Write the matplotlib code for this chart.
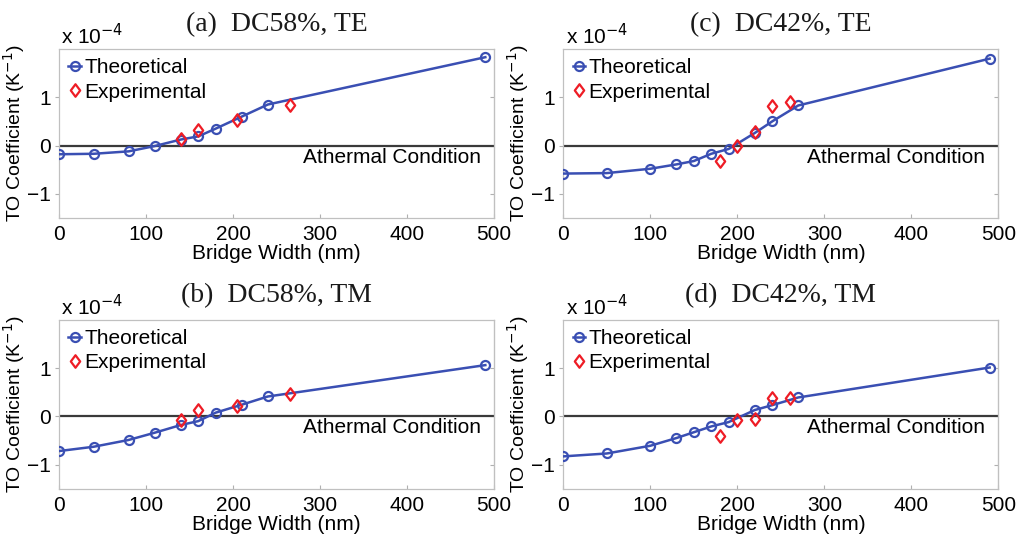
import matplotlib.pyplot as plt
from matplotlib.path import Path

# values in units of 1e-4 K^-1
a_th_x = [0, 40, 80, 110, 140, 160, 180, 210, 240, 490]
a_th_y = [-0.18, -0.17, -0.12, -0.01, 0.125, 0.19, 0.35, 0.60, 0.85, 1.83]
a_ex_x = [140, 160, 205, 265]
a_ex_y = [0.14, 0.32, 0.53, 0.84]

b_th_x = [0, 40, 80, 110, 140, 160, 180, 210, 240, 490]
b_th_y = [-0.72, -0.63, -0.49, -0.34, -0.18, -0.10, 0.075, 0.24, 0.41, 1.06]
b_ex_x = [140, 160, 205, 265]
b_ex_y = [-0.07, 0.13, 0.22, 0.46]

c_th_x = [0, 50, 100, 130, 150, 170, 190, 220, 240, 270, 490]
c_th_y = [-0.58, -0.57, -0.48, -0.39, -0.32, -0.17, -0.07, 0.26, 0.50, 0.83, 1.80]
c_ex_x = [180, 200, 220, 240, 260]
c_ex_y = [-0.33, -0.01, 0.28, 0.82, 0.90]

d_th_x = [0, 50, 100, 130, 150, 170, 190, 220, 240, 270, 490]
d_th_y = [-0.83, -0.77, -0.61, -0.45, -0.33, -0.21, -0.12, 0.13, 0.23, 0.39, 1.01]
d_ex_x = [180, 200, 220, 240, 260]
d_ex_y = [-0.41, -0.08, -0.05, 0.38, 0.37]

titles = ["(a)  DC58%, TE", "(b)  DC58%, TM", "(c)  DC42%, TE", "(d)  DC42%, TM"]

BLUE = '#3a4fb3'
RED = '#ee1c25'
FS = 15

plt.rcParams['font.family'] = 'Liberation Sans'

# MATLAB-like diamond, a bit wider than matplotlib's thin 'd'
DIAMOND = Path([(0, 1), (0.75, 0), (0, -1), (-0.75, 0), (0, 1)],
               [Path.MOVETO, Path.LINETO, Path.LINETO, Path.LINETO, Path.CLOSEPOLY])


def panel(fig, rect, title, tx, ty, ex, ey):
    ax = fig.add_axes(rect)
    ax.axhline(0, color='#3a3a3a', lw=1.6, zorder=1)
    ax.plot(tx, ty, '-o', color=BLUE, lw=1.8, ms=6.5, mew=1.6,
            mfc='none', label='Theoretical', zorder=3)
    ax.plot(ex, ey, ls='none', marker=DIAMOND, color=RED, ms=9, mew=1.6,
            mfc='none', label='Experimental', zorder=4)
    ax.set_xlim(0, 500)
    ax.set_ylim(-1.5, 2)
    ax.set_xticks([0, 100, 200, 300, 400, 500])
    ax.set_yticks([-1, 0, 1])
    ax.tick_params(axis='x', direction='in', length=3, width=0.8,
                   color='#b0b0b0', labelsize=FS, pad=5)
    ax.tick_params(axis='y', direction='out', length=3, width=0.8,
                   color='#b0b0b0', labelsize=FS, pad=3)
    sec = ax.secondary_yaxis('right')
    sec.set_yticks([-1, 0, 1])
    sec.tick_params(direction='in', length=3, width=0.8, color='#b0b0b0',
                    labelright=False)
    sec.spines['right'].set_color('#c0c0c0')
    for s in ax.spines.values():
        s.set_color('#c0c0c0')
        s.set_linewidth(0.9)
    ax.set_xlabel('Bridge Width (nm)', fontsize=FS, labelpad=0)
    ax.set_ylabel('TO Coefficient (K$^{-1}$)', fontsize=14, labelpad=0)
    ax.set_title(title, family='Liberation Serif', fontsize=20, pad=13,
                 color='#1a1a1a')
    ax.text(0.005, 1.005, r'x 10$^{-4}$', transform=ax.transAxes,
            fontsize=FS, va='bottom', ha='left')
    ax.text(0.97, -0.24, 'Athermal Condition', transform=ax.get_yaxis_transform(),
            fontsize=FS, ha='right', va='center')
    ax.legend(loc='upper left', frameon=False, fontsize=FS, numpoints=1,
              handlelength=0.6, handletextpad=0.15, labelspacing=0.25,
              borderaxespad=0.25, borderpad=0.2)
    return ax


def main():
    fig = plt.figure(figsize=(10.18, 5.36), dpi=100)
    w, h = 0.4273, 0.3153
    panel(fig, [0.058, 0.5933, w, h], titles[0], a_th_x, a_th_y, a_ex_x, a_ex_y)
    panel(fig, [0.058, 0.0882, w, h], titles[1], b_th_x, b_th_y, b_ex_x, b_ex_y)
    panel(fig, [0.5534, 0.5933, w, h], titles[2], c_th_x, c_th_y, c_ex_x, c_ex_y)
    panel(fig, [0.5534, 0.0882, w, h], titles[3], d_th_x, d_th_y, d_ex_x, d_ex_y)
    fig.savefig('out.png', dpi=100)
    plt.close(fig)


if __name__ == "__main__":
    main()
